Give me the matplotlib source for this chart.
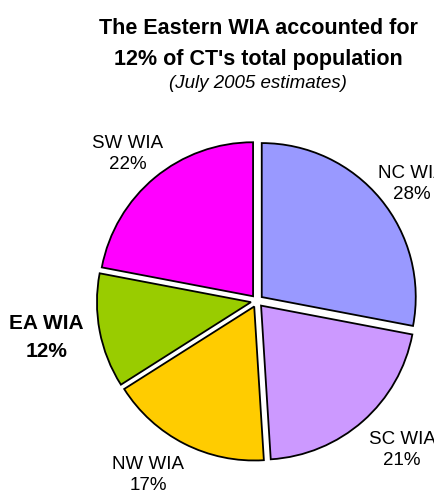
import numpy as np
import matplotlib
matplotlib.use("Agg")
import matplotlib.pyplot as plt

plt.rcParams['font.family'] = ['Liberation Sans', 'DejaVu Sans']

regions = ["NC WIA", "SC WIA", "NW WIA", "EA WIA", "SW WIA"]
shares = [28, 21, 17, 12, 22]
colors = ["#9999FF", "#CC99FF", "#FFCC00", "#99CC00", "#FF00FF"]
label_dist = [1.26, 1.35, 1.33, 1.39, 1.27]
label_angle_shift = [-2.4, 2.8, -5.0, -1.0, 1.7]

W, H = 435, 497
fig = plt.figure(figsize=(W / 100, H / 100), dpi=100)
ax = fig.add_axes([0, 0, 1, 1])

cx, cy, s = 257, 301, 154

wedges, _ = ax.pie(shares, colors=colors, startangle=90, counterclock=False,
                   explode=[0.04] * len(shares),
                   wedgeprops=dict(edgecolor='black', linewidth=1.3),
                   radius=1.0, center=(0, 0), frame=True)
ax.axis('off')
ax.set_xlim(-cx / s, (W - cx) / s)
ax.set_ylim(-(H - cy) / s, cy / s)

for w, name, val, d, sh in zip(wedges, regions, shares, label_dist, label_angle_shift):
    ang = np.deg2rad((w.theta1 + w.theta2) / 2 + sh)
    bold = name.startswith("EA")
    ax.text(d * np.cos(ang), d * np.sin(ang), f"{name}\n{val}%",
            ha='center', va='center', fontsize=15 if bold else 13.5,
            fontweight='bold' if bold else 'normal', linespacing=1.62 if bold else 1.3,
            clip_on=False)

fig.text(258 / W, 1 - 29 / H, "The Eastern WIA accounted for", ha='center', va='center',
         fontsize=15.5, fontweight='bold')
fig.text(258 / W, 1 - 59 / H, "12% of CT's total population", ha='center', va='center',
         fontsize=15.5, fontweight='bold')
fig.text(258 / W, 1 - 83 / H, "(July 2005 estimates)", ha='center', va='center',
         fontsize=13.5, fontstyle='italic')

fig.savefig("out.png", dpi=100)
